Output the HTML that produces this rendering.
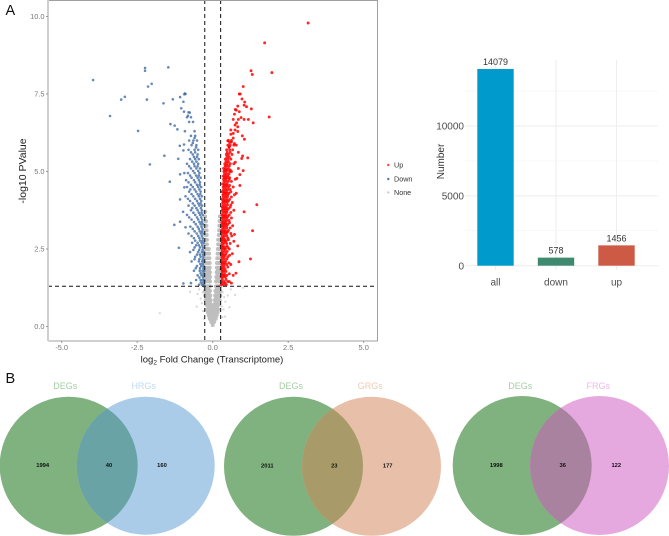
<!DOCTYPE html>
<html>
<head>
<meta charset="utf-8">
<title>Volcano plot, bar chart and Venn diagrams</title>
<style>
html,body{margin:0;padding:0;background:#fff}
svg{display:block;font-family:"Liberation Sans",sans-serif;filter:blur(0.3px)}
</style>
</head>
<body>
<svg id="fig" width="669" height="536" viewBox="0 0 669 536" xmlns="http://www.w3.org/2000/svg">
  <text x="5.5" y="15" font-size="14.5" fill="#111">A</text>
  <text x="5.5" y="383" font-size="14.5" fill="#111">B</text>

  <g id="volcano">
    <rect x="48" y="0.5" width="329" height="340.5" fill="#fff"/>
    <g id="none-pts"></g>
    <g id="none-scatter"></g>
    <g id="down-pts"></g>
    <g id="up-pts"></g>
    <g id="thresholds"></g>
    <path d="M48.5 341V0.5H377.5V341H48.5" fill="none" stroke="#a0a0a0" stroke-width="1"/>
    <line x1="48" y1="0" x2="48" y2="341" stroke="#cfcfcf" stroke-width="2"/>
    <g id="volcano-x"></g>
    <g id="volcano-y"></g>
    <text x="212" y="362.5" text-anchor="middle" font-size="9.5" fill="#222">log<tspan font-size="6.5" dy="2">2</tspan><tspan dy="-2"> Fold Change (Transcriptome)</tspan></text>
    <text transform="translate(26,171) rotate(-90)" text-anchor="middle" font-size="10.5" fill="#222">-log10 PValue</text>
    <g font-size="7.2" fill="#333">
      <circle cx="388.3" cy="165" r="1.2" fill="#f44"/>
      <text x="394" y="167.6">Up</text>
      <circle cx="388.3" cy="179" r="1.2" fill="#5577aa"/>
      <text x="394" y="181.6">Down</text>
      <circle cx="388.3" cy="192.5" r="1.2" fill="#ccc"/>
      <text x="394" y="195.1">None</text>
    </g>
  </g>

  <g id="bars"></g>

  <defs>
    <clipPath id="c1"><circle cx="68.7" cy="465.7" r="69"/></clipPath>
    <clipPath id="c2"><circle cx="293.5" cy="466.3" r="69.5"/></clipPath>
    <clipPath id="c3"><circle cx="522.2" cy="465.5" r="69.5"/></clipPath>
  </defs>

  <g>
    <circle cx="68.7" cy="465.7" r="69" fill="#7fb27f"/>
    <circle cx="145.7" cy="465.7" r="69" fill="#aacce9"/>
    <circle cx="145.7" cy="465.7" r="69" fill="#69a3a6" clip-path="url(#c1)"/>
    <text x="65.3" y="389" text-anchor="middle" font-size="9" fill="#a5cda5">DEGs</text>
    <text x="143.7" y="389" text-anchor="middle" font-size="9" fill="#bfd9f0">HRGs</text>
    <g font-size="5.8" font-weight="bold" fill="#111" text-anchor="middle">
      <text x="42.7" y="467">1994</text>
      <text x="109" y="467">40</text>
      <text x="162" y="467">160</text>
    </g>
  </g>

  <g>
    <circle cx="293.5" cy="466.3" r="69.5" fill="#7fb27f"/>
    <circle cx="371.5" cy="466.3" r="69.5" fill="#e8bfa9"/>
    <circle cx="371.5" cy="466.3" r="69.5" fill="#a89b69" clip-path="url(#c2)"/>
    <text x="291" y="389" text-anchor="middle" font-size="9" fill="#a5cda5">DEGs</text>
    <text x="370.3" y="389" text-anchor="middle" font-size="9" fill="#f0c9b5">GRGs</text>
    <g font-size="5.8" font-weight="bold" fill="#111" text-anchor="middle">
      <text x="267.3" y="467.6">2011</text>
      <text x="334.3" y="467.6">23</text>
      <text x="387.7" y="467.6">177</text>
    </g>
  </g>

  <g>
    <circle cx="522.2" cy="465.5" r="69.5" fill="#7fb27f"/>
    <circle cx="599.5" cy="465.5" r="69.5" fill="#e6a9df"/>
    <circle cx="599.5" cy="465.5" r="69.5" fill="#a8829e" clip-path="url(#c3)"/>
    <text x="520.3" y="389" text-anchor="middle" font-size="9" fill="#a5cda5">DEGs</text>
    <text x="598.3" y="389" text-anchor="middle" font-size="9" fill="#efb8e8">FRGs</text>
    <g font-size="5.8" font-weight="bold" fill="#111" text-anchor="middle">
      <text x="496.3" y="467">1998</text>
      <text x="562.7" y="467">36</text>
      <text x="616.3" y="467">122</text>
    </g>
  </g>
</svg>

<script>
var xTicks = [-5, -2.5, 0, 2.5, 5];
var yTicks = [0, 2.5, 5, 7.5, 10];
var fcThresholds = [-0.263, 0.263];
var pThreshold = 1.3;

var upPoints = [
[3.16,9.79],[1.72,9.15],[1.27,8.25],[1.31,8.13],[1.96,8.19],[1.01,7.74],[.88,7.5],[.91,7.5],[.97,7.34],[1.06,7.24],[1.04,7.14],[1.12,7.09],[.83,7.11],[.75,7],[.78,6.98],[1.28,7.02],[.88,6.93],[.72,6.85],[1.87,6.76],[.68,6.68],[.94,6.74],[.85,6.68],[1.04,6.68],[1.18,6.68],[1.34,6.57],[.79,6.57],[.74,6.5],[.83,6.44],[.6,6.34],[.74,6.34],[.83,6.29],[.68,6.23],[.6,6.2],[.98,6.15],[.68,6.08],[1.05,6.04],[.5,5.99],[.62,5.95],[.72,5.9],[.78,5.85],[.55,5.8],[.85,5.62],[1.16,5.44],[.99,5.5],[.96,5.42],[.75,5.3],[1.01,5.03],[.9,4.9],[.8,4.78],[.9,4.55],[.78,4.3],
[1.46,3.93],[1.04,3.7],[1.32,3.09],[1.25,2.18],[.87,2.09],[.83,2.6],[.72,2.97],[.77,1.72],[.62,1.4],[.55,1.45],[.68,1.65],
[.28,1.35],[.36,1.35],[.45,1.35],[.29,1.45],[.38,1.45],[.5,1.45],[.28,1.6],[.35,1.6],[.42,1.6],[.3,1.7],[.39,1.7],[.55,1.7],[.28,1.85],[.34,1.85],[.41,1.85],[.3,2],[.37,2],[.46,2],[.6,2],[.28,2.1],[.35,2.1],[.43,2.1],[.3,2.25],[.38,2.25],[.5,2.25],[.28,2.35],[.34,2.35],[.44,2.35],[.65,2.35],[.3,2.5],[.37,2.5],[.42,2.5],[.55,2.5],[.28,2.6],[.35,2.6],[.47,2.6],[.31,2.75],[.39,2.75],[.44,2.75],[.7,2.75],[.29,2.85],[.36,2.85],[.5,2.85],[.3,3],[.38,3],[.45,3],[.6,3],[.29,3.1],[.35,3.1],[.42,3.1],[.52,3.1],[.31,3.25],[.38,3.25],[.46,3.25],[.66,3.25],[.3,3.35],[.36,3.35],[.43,3.35],[.56,3.35],[.32,3.5],[.39,3.5],[.47,3.5],[.62,3.5],[.3,3.6],[.37,3.6],[.44,3.6],[.55,3.6],[.32,3.75],[.4,3.75],[.48,3.75],[.7,3.75],[.31,3.85],[.37,3.85],[.45,3.85],[.58,3.85],[.33,4],[.4,4],[.48,4],[.65,4],[.31,4.1],[.38,4.1],[.46,4.1],[.56,4.1],[.34,4.25],[.42,4.25],[.5,4.25],[.72,4.25],[.32,4.35],[.39,4.35],[.47,4.35],[.6,4.35],[.35,4.5],[.43,4.5],[.52,4.5],[.68,4.5],[.33,4.6],[.4,4.6],[.48,4.6],[.36,4.75],[.44,4.75],[.55,4.75],[.75,4.75],[.35,4.85],[.42,4.85],[.5,4.85],[.37,5],[.45,5],[.56,5],[.62,5],[.36,5.1],[.43,5.1],[.52,5.1],[.85,5.1],[.4,5.25],[.48,5.25],[.58,5.25],[.7,5.25],[.42,5.4],[.5,5.4],[.6,5.4],[.45,5.55],[.52,5.55],[.64,5.55],[.46,5.7],[.56,5.7],[.66,5.7],[.5,5.85],[.58,5.85],[.7,5.85],[.52,6],[.62,6],
[.31,1.4],[.41,1.4],[.32,1.52],[.44,1.52],[.31,1.65],[.38,1.65],[.47,1.65],[.32,1.78],[.36,1.78],[.44,1.78],[.31,1.92],[.38,1.92],[.5,1.92],[.32,2.05],[.4,2.05],[.54,2.05],[.31,2.18],[.38,2.18],[.47,2.18],[.33,2.3],[.41,2.3],[.56,2.3],[.31,2.42],[.39,2.42],[.48,2.42],[.33,2.55],[.4,2.55],[.5,2.55],[.31,2.68],[.37,2.68],[.46,2.68],[.58,2.68],[.33,2.8],[.41,2.8],[.52,2.8],[.32,2.92],[.39,2.92],[.47,2.92],[.63,2.92],[.33,3.05],[.41,3.05],[.49,3.05],[.33,3.18],[.39,3.18],[.47,3.18],[.58,3.18],[.34,3.3],[.41,3.3],[.5,3.3],[.33,3.42],[.4,3.42],[.46,3.42],[.54,3.42],[.35,3.55],[.42,3.55],[.5,3.55],[.34,3.68],[.41,3.68],[.47,3.68],[.6,3.68],[.35,3.8],[.43,3.8],[.52,3.8],[.34,3.92],[.41,3.92],[.49,3.92],[.6,3.92],[.36,4.05],[.43,4.05],[.52,4.05],[.35,4.18],[.42,4.18],[.49,4.18],[.62,4.18],[.37,4.3],[.44,4.3],[.54,4.3],[.36,4.42],[.43,4.42],[.5,4.42],[.58,4.42],[.38,4.55],[.46,4.55],[.56,4.55],[.37,4.68],[.44,4.68],[.52,4.68],[.62,4.68],[.39,4.8],[.47,4.8],[.56,4.8],[.39,4.92],[.46,4.92],[.54,4.92],[.4,5.05],[.48,5.05],[.58,5.05],[.41,5.18],[.47,5.18],[.55,5.18],[.44,5.32],[.52,5.32],[.47,5.47],[.55,5.47],[.48,5.62],[.58,5.62],[.54,5.78],[.56,5.93]
];

var downPoints = [
[-3.96,7.95],[-3.4,6.79],[-3.03,7.32],[-2.91,7.41],[-2.47,6.31],[-2.24,8.34],[-2.24,8.25],[-2.14,7.74],[-2.02,7.83],[-2.18,7.32],[-1.47,8.36],[-1.63,7.2],[-1.32,7.33],[-1.08,7.4],[-.92,7.52],[-.9,7.5],[-.94,7.49],[-.97,7.25],[-1.04,7.04],[-.95,6.93],[-.8,6.91],[-.76,6.9],[-.82,6.8],[-2.08,5.23],[-1.6,5.51],[-1.4,6.53],[-1.26,6.48],[-1.17,6.36],[-.92,6.3],[-1.09,5.83],[-.95,5.87],[-.97,5.68],[-1.14,5.41],[-1.08,4.91],[-.94,4.95],[-1.42,4.67],[-1.27,3.28],[-1.12,2.54],[-1.08,3.38],[-1.08,4.1],[-.94,4.49],[-.97,1.39],[-.72,1.4],[-.98,3.7],[-.9,3.2],
[-.29,1.35],[-.35,1.35],[-.45,1.35],[-.28,1.5],[-.33,1.5],[-.4,1.5],[-.55,1.5],[-.3,1.65],[-.37,1.65],[-.5,1.65],[-.28,1.8],[-.34,1.8],[-.43,1.8],[-.62,1.8],[-.3,1.95],[-.38,1.95],[-.52,1.95],[-.29,2.1],[-.35,2.1],[-.46,2.1],[-.7,2.1],[-.31,2.25],[-.4,2.25],[-.58,2.25],[-.29,2.4],[-.36,2.4],[-.48,2.4],[-.75,2.4],[-.32,2.55],[-.42,2.55],[-.6,2.55],[-.3,2.7],[-.37,2.7],[-.5,2.7],[-.68,2.7],[-.33,2.85],[-.44,2.85],[-.62,2.85],[-.31,3],[-.39,3],[-.53,3],[-.8,3],[-.34,3.15],[-.46,3.15],[-.66,3.15],[-.32,3.3],[-.4,3.3],[-.56,3.3],[-.35,3.45],[-.48,3.45],[-.7,3.45],[-.33,3.6],[-.42,3.6],[-.58,3.6],[-.85,3.6],[-.36,3.75],[-.5,3.75],[-.72,3.75],[-.35,3.9],[-.44,3.9],[-.6,3.9],[-.8,3.9],[-.38,4.05],[-.52,4.05],[-.75,4.05],[-.36,4.2],[-.46,4.2],[-.64,4.2],[-.9,4.2],[-.4,4.35],[-.55,4.35],[-.78,4.35],[-.38,4.5],[-.48,4.5],[-.66,4.5],[-.85,4.5],[-.42,4.65],[-.58,4.65],[-.8,4.65],[-.4,4.8],[-.5,4.8],[-.7,4.8],[-.44,4.95],[-.6,4.95],[-.82,4.95],[-.42,5.1],[-.54,5.1],[-.72,5.1],[-.48,5.25],[-.62,5.25],[-.85,5.25],[-.46,5.4],[-.58,5.4],[-.75,5.4],[-.5,5.55],[-.66,5.55],[-.48,5.7],[-.6,5.7],[-.8,5.7],[-.54,5.85],[-.7,5.85],[-.52,6],[-.64,6],[-.78,6],[-.58,6.15],[-.72,6.15],[-.6,6.3],[-.65,6.6],[-.78,6.6],[-.72,6.75],[-.85,6.75],
[-.31,1.42],[-.39,1.42],[-.32,1.58],[-.44,1.58],[-.31,1.72],[-.4,1.72],[-.31,1.88],[-.42,1.88],[-.56,1.88],[-.33,2.02],[-.41,2.02],[-.33,2.17],[-.44,2.17],[-.6,2.17],[-.32,2.32],[-.42,2.32],[-.52,2.32],[-.34,2.47],[-.45,2.47],[-.64,2.47],[-.35,2.62],[-.46,2.62],[-.55,2.62],[-.34,2.77],[-.42,2.77],[-.58,2.77],[-.36,2.92],[-.48,2.92],[-.7,2.92],[-.35,3.07],[-.43,3.07],[-.6,3.07],[-.37,3.22],[-.5,3.22],[-.74,3.22],[-.36,3.37],[-.44,3.37],[-.62,3.37],[-.38,3.52],[-.52,3.52],[-.78,3.52],[-.37,3.67],[-.46,3.67],[-.64,3.67],[-.39,3.82],[-.54,3.82],[-.68,3.82],[-.4,3.97],[-.48,3.97],[-.66,3.97],[-.42,4.12],[-.58,4.12],[-.82,4.12],[-.41,4.27],[-.5,4.27],[-.7,4.27],[-.44,4.42],[-.6,4.42],[-.74,4.42],[-.43,4.57],[-.52,4.57],[-.72,4.57],[-.46,4.72],[-.62,4.72],[-.88,4.72],[-.46,4.87],[-.55,4.87],[-.75,4.87],[-.48,5.02],[-.65,5.02],[-.5,5.17],[-.6,5.17],[-.78,5.17],[-.54,5.32],[-.68,5.32],[-.52,5.47],[-.62,5.47],[-.58,5.62],[-.72,5.62],[-.55,5.78],[-.66,5.92],[-.6,6.08]
];

var nonePoints = [
[0,.05],[-.05,.15],[.05,.15],[-.1,.25],[0,.25],[.1,.25],[-.13,.35],[-.04,.35],[.04,.35],[.13,.35],[-.16,.45],[-.07,.45],[0,.45],[.07,.45],[.16,.45],[-.18,.55],[-.1,.55],[-.03,.55],[.03,.55],[.1,.55],[.18,.55],[-.06,.62],[.06,.62],[-.14,.62],[.14,.62],[-.21,.7],[-.13,.7],[-.05,.7],[.05,.7],[.13,.7],[.21,.7],[-.09,.78],[.09,.78],[-.17,.78],[.17,.78],[-.23,.85],[-.15,.85],[-.07,.85],[.07,.85],[.15,.85],[.23,.85],[-.11,.92],[.11,.92],[-.19,.92],[.19,.92],[-.25,1],[-.17,1],[-.08,1],[.08,1],[.17,1],[.25,1],[-.13,1.08],[.13,1.08],[-.22,1.08],[.22,1.08],[-.26,1.15],[-.18,1.15],[-.09,1.15],[.09,1.15],[.18,1.15],[.26,1.15],[-.14,1.22],[.14,1.22],[-.22,1.22],[.22,1.22],[-.26,1.3],[-.18,1.3],[-.1,1.3],[.11,1.3],[.18,1.3],[.26,1.3],[-.24,1.45],[-.16,1.45],[-.09,1.45],[.11,1.45],[.18,1.45],[.25,1.45],[-.2,1.52],[-.12,1.52],[.15,1.52],[.22,1.52],[-.24,1.6],[-.16,1.6],[-.09,1.6],[.12,1.6],[.19,1.6],[.25,1.6],[-.2,1.68],[-.12,1.68],[.16,1.68],[.22,1.68],[-.24,1.75],[-.15,1.75],[-.09,1.75],[.13,1.75],[.2,1.75],[.25,1.75],[-.2,1.82],[-.13,1.82],[.17,1.82],[.23,1.82],[-.24,1.9],[-.16,1.9],[-.1,1.9],[.14,1.9],[.2,1.9],[.25,1.9],[-.25,2.05],[-.17,2.05],[-.1,2.05],[.14,2.05],[.2,2.05],[.25,2.05],[-.25,2.2],[-.17,2.2],[-.11,2.2],[.15,2.2],[.21,2.2],[-.25,2.35],[-.18,2.35],[-.12,2.35],[.16,2.35],[.22,2.35],[-.25,2.5],[-.18,2.5],[-.13,2.5],[.17,2.5],[.22,2.5],[-.25,2.65],[-.19,2.65],[.18,2.65],[.23,2.65],[-.25,2.8],[-.19,2.8],[.18,2.8],[.23,2.8],[-.25,2.95],[-.2,2.95],[.2,2.95],[.24,2.95],[-.25,3.1],[-.2,3.1],[.21,3.1],[.24,3.1],[-.25,3.25],[-.21,3.25],[.22,3.25],[.25,3.25],[-.25,3.4],[-.22,3.4],[.23,3.4],[-.25,3.55],[.24,3.55],[-.25,3.7]
];

var noneScatterPoints = [
[-1.75,.43],[1.01,1.25],[-.75,1.12],[.74,1.02],[.41,.32],[-.53,.64],[-.4,.9],[-.33,1.1],[.33,1.1],[.42,.8],[.5,1],[.36,.55],[-.32,.5],[-.45,1.2],[.55,.62],[.6,1.2],[.32,.3],[-.28,.25],[-.36,.75],[.38,.95],[.3,.65],[-.5,1.05]
];

var barCategories = ["all", "down", "up"];
var barValues = [14079, 578, 1456];
var barMajorTicks = [0, 5000, 10000];
var barMinorTicks = [2500, 7500, 12500];
var barColors = ["#009acd", "#3f8a6e", "#cd5a45"];

var NS = "http://www.w3.org/2000/svg";
function make(tag, attrs, parent) {
  var el = document.createElementNS(NS, tag);
  for (var k in attrs) { el.setAttribute(k, attrs[k]); }
  parent.appendChild(el);
  return el;
}
function volX(v) { return 212.7 + 30.2 * v; }
function volY(v) { return 326.5 - 31 * v; }

function drawPoints(points, groupId, fill, radius, opacity) {
  var g = document.getElementById(groupId);
  points.forEach(function (p) {
    var c = make("circle", {cx: volX(p[0]), cy: volY(p[1]), r: radius, fill: fill, "fill-opacity": opacity}, g);
    
    
  });
}
drawPoints(nonePoints, "none-pts", "#bdbdbd", 2, 0.95);
drawPoints(noneScatterPoints, "none-scatter", "#cfcfcf", 1.1, 0.85);
drawPoints(downPoints, "down-pts", "#3f6ba3", 1.3, 0.8);
drawPoints(upPoints, "up-pts", "#ff0000", 1.45, 0.85);

var thresholdGroup = document.getElementById("thresholds");
fcThresholds.forEach(function (t) {
  var l = make("line", {x1: volX(t), x2: volX(t), y1: 0, y2: 341, stroke: "#111", "stroke-width": 1, "stroke-dasharray": "4 3"}, thresholdGroup);
  
  
});
var pLine = make("line", {x1: 48, x2: 377, y1: volY(pThreshold), y2: volY(pThreshold), stroke: "#111", "stroke-width": 1, "stroke-dasharray": "4 3"}, thresholdGroup);



var xGroup = document.getElementById("volcano-x");
xTicks.forEach(function (t) {
  var m = make("line", {x1: volX(t), x2: volX(t), y1: 341, y2: 343, stroke: "#999"}, xGroup);
  
  
  var s = make("text", {x: volX(t), y: 350, "text-anchor": "middle", "font-size": 7.4, fill: "#777"}, xGroup);
  s.textContent = t.toFixed(1);
  
  
});
var yGroup = document.getElementById("volcano-y");
yTicks.forEach(function (t) {
  var m = make("line", {x1: 46, x2: 48, y1: volY(t), y2: volY(t), stroke: "#999"}, yGroup);
  
  
  var s = make("text", {x: 44.5, y: volY(t) + 2.7, "text-anchor": "end", "font-size": 7.4, fill: "#777"}, yGroup);
  s.textContent = t.toFixed(1);
  
  
});

function barY(v) { return 265.7 - v * 69.85 / 5000; }
function barCenter(i) { return 495.5 + i * 60.5; }
var barGroup = document.getElementById("bars");
barMinorTicks.forEach(function (t) {
  var l = make("line", {x1: 465, x2: 658, y1: barY(t), y2: barY(t), stroke: "#f4f4f4", "stroke-width": 0.7}, barGroup);
  
  
});
barMajorTicks.forEach(function (t) {
  var l = make("line", {x1: 465, x2: 658, y1: barY(t), y2: barY(t), stroke: "#eeeeee", "stroke-width": 1}, barGroup);
  
  
  var s = make("text", {x: 464, y: barY(t) + 3.6, "text-anchor": "end", "font-size": 10, fill: "#4d4d4d"}, barGroup);
  s.textContent = t;
  
  
});
barCategories.forEach(function (c, i) {
  var g = make("line", {x1: barCenter(i), x2: barCenter(i), y1: 60, y2: 270, stroke: "#eeeeee", "stroke-width": 1}, barGroup);
  
  
  var r = make("rect", {x: barCenter(i) - 18.2, y: barY(barValues[i]), width: 36.4, height: barY(0) - barY(barValues[i]), fill: barColors[i]}, barGroup);
  
  
  var v = make("text", {x: barCenter(i), y: barY(barValues[i]) - 4, "text-anchor": "middle", "font-size": 9, fill: "#333"}, barGroup);
  v.textContent = barValues[i];
  
  
  var s = make("text", {x: barCenter(i), y: 285.5, "text-anchor": "middle", "font-size": 10, fill: "#4d4d4d"}, barGroup);
  s.textContent = c;
  
  
});
var barTitle = make("text", {transform: "translate(444,161.5) rotate(-90)", "text-anchor": "middle", "font-size": 10, fill: "#333"}, barGroup);
barTitle.textContent = "Number";


</script>
</body>
</html>
